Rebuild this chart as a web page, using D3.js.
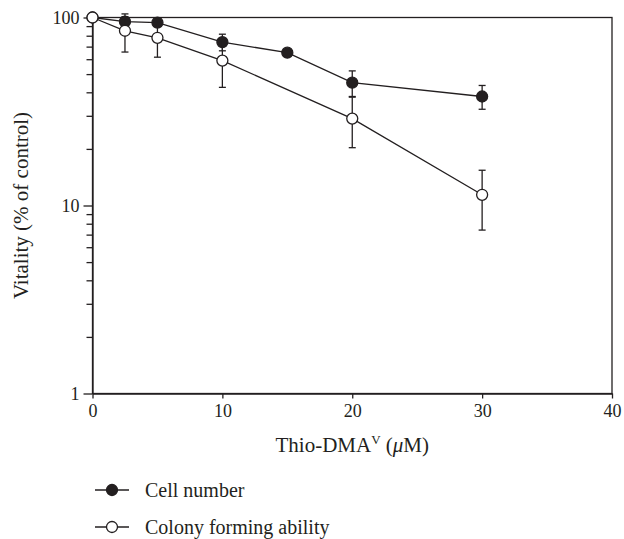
<!DOCTYPE html>
<html>
<head>
<meta charset="utf-8">
<script src="https://cdn.jsdelivr.net/npm/d3@7"></script>
<style>
  html, body { margin: 0; padding: 0; background: #fff; }
  svg { display: block; }
</style>
</head>
<body>
<svg id="chart" width="624" height="539"></svg>
<script>
// ---- data ----
const cellX   = [0, 2.5, 5, 10, 15, 20, 30];
const cellY   = [100, 95, 94, 74, 65, 45, 38];
const cellErr = [0, 6, 4, 7.5, 2, 7, 5.5];

const colonyX   = [0, 2.5, 5, 10, 20, 30];
const colonyY   = [100, 85, 78, 59, 29, 11.4];
const colonyErr = [0, 19.5, 16.5, 16.5, 8.7, 4];

const xTicks = [0, 10, 20, 30, 40];
const yTicks = [1, 10, 100];
const yMinorTicks = [2,3,4,5,6,7,8,9,20,30,40,50,60,70,80,90];

const seriesNames = ["Cell number", "Colony forming ability"];

// ---- layout ----
const FONT = "Liberation Serif";
const svg = d3.select("#chart");
const mLeft = 92.5, mRight = 612, mTop = 17.5, mBottom = 393.5;
const ink = "#231f20";

const x = d3.scaleLinear().domain([0, 40]).range([mLeft, mRight]);
const y = d3.scaleLog().domain([1, 100]).range([mBottom, mTop]);

// frame
svg.append("rect")
  .attr("x", mLeft).attr("y", mTop)
  .attr("width", mRight - mLeft).attr("height", mBottom - mTop)
  .attr("fill", "none").attr("stroke", ink).attr("stroke-width", 1.3);

// x axis
const xAxis = d3.axisBottom(x).tickValues(xTicks).tickFormat(d3.format("d"))
  .tickSizeInner(5).tickSizeOuter(0).tickPadding(6);
const gx = svg.append("g").attr("transform", `translate(0,${mBottom})`).call(xAxis);
gx.attr("font-family", FONT).attr("font-size", 18);
gx.select(".domain").attr("stroke", ink).attr("stroke-width", 1.3);
gx.selectAll(".tick line").attr("stroke", ink).attr("stroke-width", 1.3);
gx.selectAll(".tick text").attr("fill", ink);

// y axis (major)
const yAxis = d3.axisLeft(y).tickValues(yTicks).tickFormat(d3.format("d"))
  .tickSizeInner(9).tickSizeOuter(0).tickPadding(4);
const gy = svg.append("g").attr("transform", `translate(${mLeft},0)`).call(yAxis);
gy.attr("font-family", FONT).attr("font-size", 18);
gy.select(".domain").attr("stroke", ink).attr("stroke-width", 1.3);
gy.selectAll(".tick line").attr("stroke", ink).attr("stroke-width", 1.3);
gy.selectAll(".tick text").attr("fill", ink);

// y axis (minor)
const yMinor = d3.axisLeft(y).tickValues(yMinorTicks).tickFormat("").tickSizeInner(6).tickSizeOuter(0);
const gym = svg.append("g").attr("transform", `translate(${mLeft},0)`).call(yMinor);
gym.select(".domain").remove();
gym.selectAll(".tick line").attr("stroke", ink).attr("stroke-width", 1.3);

// axis titles
svg.append("text")
  .attr("transform", `translate(28,${(mTop + mBottom) / 2}) rotate(-90)`)
  .attr("text-anchor", "middle").attr("font-size", 21).attr("font-family", FONT).attr("fill", ink)
  .text("Vitality (% of control)");

const xt = svg.append("text")
  .attr("x", (mLeft + mRight) / 2).attr("y", 452)
  .attr("text-anchor", "middle").attr("font-size", 21).attr("font-family", FONT).attr("fill", ink);
xt.append("tspan").text("Thio-DMA");
xt.append("tspan").attr("dy", -8).attr("font-size", 13).text("V");
xt.append("tspan").attr("dy", 8).text(" (");
xt.append("tspan").attr("font-style", "italic").text("μ");
xt.append("tspan").text("M)");

// series
function drawSeries(xs, ys, es, fill) {
  const pts = xs.map((d, i) => ({x: d, y: ys[i], e: es[i]}));
  const line = d3.line().x(d => x(d.x)).y(d => y(d.y));
  svg.append("path").datum(pts).attr("d", line)
    .attr("fill", "none").attr("stroke", ink).attr("stroke-width", 1.3);
  const eb = svg.append("g");
  pts.filter(d => d.e > 0).forEach(d => {
    const y1 = y(d.y + d.e), y2 = y(Math.max(d.y - d.e, 1.01));
    eb.append("line").attr("x1", x(d.x)).attr("x2", x(d.x)).attr("y1", y1).attr("y2", y2)
      .attr("stroke", ink).attr("stroke-width", 1.3);
    [y1, y2].forEach(yy => eb.append("line")
      .attr("x1", x(d.x) - 3.5).attr("x2", x(d.x) + 3.5).attr("y1", yy).attr("y2", yy)
      .attr("stroke", ink).attr("stroke-width", 1.3));
  });
  svg.append("g").selectAll("circle").data(pts).join("circle")
    .attr("cx", d => x(d.x)).attr("cy", d => y(d.y)).attr("r", 5.5)
    .attr("fill", fill).attr("stroke", ink).attr("stroke-width", 1.3);
}
drawSeries(cellX, cellY, cellErr, ink);
drawSeries(colonyX, colonyY, colonyErr, "#fff");

// legend
const legendY = [490, 527];
const legendFill = [ink, "#fff"];
seriesNames.forEach((name, i) => {
  const g = svg.append("g").attr("transform", `translate(0,${legendY[i]})`);
  g.append("line").attr("x1", 95).attr("x2", 129).attr("y1", 0).attr("y2", 0)
    .attr("stroke", ink).attr("stroke-width", 1.3);
  g.append("circle").attr("cx", 112).attr("cy", 0).attr("r", 5.5)
    .attr("fill", legendFill[i]).attr("stroke", ink).attr("stroke-width", 1.3);
  g.append("text").attr("x", 145).attr("y", 6.5).attr("font-size", 20)
    .attr("font-family", FONT).attr("fill", ink).text(name);
});
</script>
</body>
</html>
